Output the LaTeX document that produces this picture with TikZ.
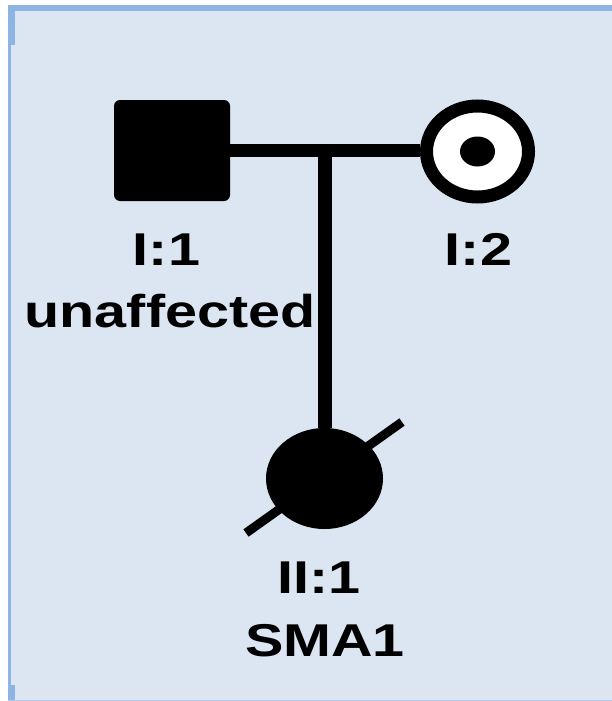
\documentclass[tikz,border=0pt]{standalone}
\usepackage{fontspec}
\newfontfamily\lbf[FakeStretch=1.25]{Liberation Sans}
\usetikzlibrary{shapes.geometric,calc}
\definecolor{bgblue}{HTML}{DCE6F2}
\definecolor{edgeblue}{HTML}{8EB4E3}
\tikzset{
  malebox/.style={rectangle, rounded corners=6pt, fill=black, inner sep=0pt,
    minimum width=116pt, minimum height=101pt},
  ringfem/.style={ellipse, draw=black, line width=13pt, fill=white, inner sep=0pt,
    minimum width=102pt, minimum height=91pt},
  dotfem/.style={ellipse, fill=black, inner sep=0pt, minimum width=35pt, minimum height=30pt},
  affem/.style={ellipse, fill=black, inner sep=0pt, minimum width=117pt, minimum height=101pt},
  mateline/.style={line width=13pt},
  descline/.style={line width=14pt},
  deadline/.style={line width=9pt},
  lbl/.style={anchor=base, inner sep=0pt, font=\lbf\bfseries\fontsize{46}{55}\selectfont}
}
\begin{document}
\begin{tikzpicture}[x=1pt,y=-1pt]
\useasboundingbox (0,0) rectangle (612,701);
% background panel
\fill[bgblue] (8,5) rectangle (612,701);
\fill[edgeblue] (8,5) rectangle (612,11);
\fill[edgeblue] (8,5) rectangle (14.5,45);
\fill[edgeblue] (8,5) rectangle (11,701);
\fill[edgeblue] (8,685) rectangle (15,701);
\fill[edgeblue!50!bgblue] (8,699.5) rectangle (612,701);
% individuals
\node[malebox] (m) at (172,150.5) {};
\node[ringfem] (f) at (477.5,151.5) {};
\node[dotfem] (fd) at (f.center) {};
\node[affem] (c) at (324.5,478.5) {};
\coordinate (mate) at (324.5,150.5);
% connectors
\draw[mateline] (m.east) -- (m.east -| f.west);
\draw[descline] (mate) -- (c.north);
\draw[deadline] ($(c.center)+(-78.5,54.5)$) -- ($(c.center)+(77.5,-56.5)$);
% labels
\node[lbl] (l1) at (166.5,265) {I:1};
\node[lbl] (l1b) at (170,327) {unaffected};
\node[lbl] (l2) at (478.5,265) {I:2};
\node[lbl] (l3) at (319,593) {II:1};
\node[lbl] (l3b) at (325,656) {SMA1};
\end{tikzpicture}
\end{document}
